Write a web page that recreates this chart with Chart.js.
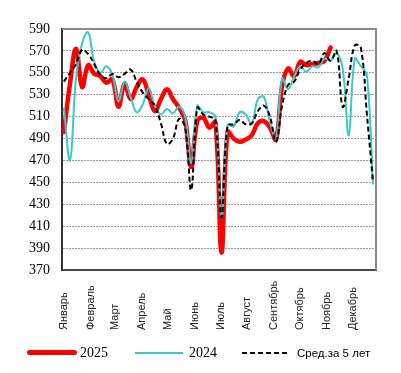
<!DOCTYPE html>
<html><head><meta charset="utf-8">
<script src="https://cdn.jsdelivr.net/npm/chart.js@4/dist/chart.umd.min.js"></script>
<style>
html,body{margin:0;padding:0;background:#fff;}
#wrap{position:relative;width:401px;height:373px;overflow:hidden;}
canvas{position:absolute;left:0;top:0;}
.ln{position:absolute;}
.tx{position:absolute;top:344px;line-height:18px;white-space:nowrap;color:#000;}
</style></head><body>
<div id="wrap">
<canvas id="c" width="401" height="373"></canvas>
<div class="ln" style="left:27px;top:350px;width:50px;height:5px;background:#ff0000;border-radius:3px;"></div>
<div class="tx" style="left:80px;font:14px 'Liberation Serif',serif;line-height:18px;">2025</div>
<div class="ln" style="left:135px;top:351.5px;width:48px;height:2px;background:#3ec6c8;"></div>
<div class="tx" style="left:189px;font:14px 'Liberation Serif',serif;line-height:18px;">2024</div>
<div class="ln" style="left:242px;top:351.5px;width:45px;height:2px;background:repeating-linear-gradient(90deg,#000 0 5px,transparent 5px 8px);"></div>
<div class="tx" style="left:297px;font:11.5px 'Liberation Sans',sans-serif;line-height:18px;">Сред.за 5 лет</div>
</div>
<script>
const weeks = [1,2,3,4,5,6,7,8,9,10,11,12,13,14,15,16,17,18,19,20,21,22,23,24,25,26,27,28,29,30,31,32,33,34,35,36,37,38,39,40,41,42,43,44,45,46,47,48,49,50,51,52];
const monthLabels = ['Январь','Февраль','Март','Апрель','Май','Июнь','Июль','Август','Сентябрь','Октябрь','Ноябрь','Декабрь'];
const monthStartDays = [0,31,59,90,120,151,181,212,243,273,304,334];
const yMin = 370, yMax = 590, yStep = 20;

const series2025 = [496,540,572,537,557,549,547,541,544,519,540,526,537,544,530,515,526,535,526,518,507,464,506,509,500,505,386,496,490,487,489,493,504,506,500,489,538,554,547,560,557,558,559,561,573];
const series2024 = [518,470,545,577,587,560,550,556,548,524,542,528,514,521,536,520,512,517,513,519,510,468,520,514,514,510,418,502,501,514,512,503,526,528,505,490,545,535,547,556,551,556,555,563,561,568,554,493,563,556,548,448];
const seriesAvg  = [542,550,558,571,567,558,548,545,549,546,549,553,542,532,526,520,504,485,490,508,500,443,518,512,510,507,418,502,503,507,503,504,515,520,510,487,520,539,542,553,559,561,558,568,561,570,519,545,575,573,512,451];

const framePlugin = {
  id: 'frame',
  beforeDatasetsDraw(chart) {
    const {ctx, chartArea: a} = chart;
    ctx.save();
    ctx.strokeStyle = '#8a8a8a';
    ctx.lineWidth = 2;
    ctx.beginPath();
    ctx.moveTo(a.left, a.top);
    ctx.lineTo(a.right, a.top);
    ctx.lineTo(a.right, a.bottom);
    ctx.stroke();
    ctx.restore();
  },
  afterDraw(chart) {
    const {ctx} = chart;
    const xs = chart.scales.x;
    ctx.save();
    ctx.fillStyle = '#222';
    ctx.font = "11px 'Liberation Sans', sans-serif";
    ctx.textAlign = 'left';
    ctx.textBaseline = 'middle';
    monthLabels.forEach((lab, i) => {
      const px = xs.getPixelForValue(1 + monthStartDays[i] / 7);
      ctx.save();
      ctx.translate(px, 330);
      ctx.rotate(-Math.PI / 2);
      ctx.fillText(lab, 0, 0);
      ctx.restore();
    });
    ctx.restore();
  }
};

new Chart(document.getElementById('c'), {
  type: 'line',
  data: {
    labels: weeks,
    datasets: [
      {label: '2025', data: series2025, borderColor: '#ff0000', borderWidth: 4.5, tension: 0.4, pointRadius: 0, fill: false, order: 3, borderCapStyle: 'round', borderJoinStyle: 'round'},
      {label: '2024', data: series2024, borderColor: '#3ec6c8', borderWidth: 2, tension: 0.4, pointRadius: 0, fill: false, order: 2},
      {label: 'Сред.за 5 лет', data: seriesAvg, borderColor: '#000000', borderWidth: 2, borderDash: [5, 3], tension: 0.4, pointRadius: 0, fill: false, order: 1}
    ]
  },
  options: {
    responsive: false,
    animation: false,
    devicePixelRatio: 1,
    layout: {padding: {left: 17, right: 25, top: 29, bottom: 103}},
    plugins: {legend: {display: false}, tooltip: {enabled: false}},
    scales: {
      x: {
        type: 'linear', min: 0.68, max: 52.5,
        grid: {display: false, drawTicks: false},
        ticks: {display: false},
        border: {display: true, color: '#4a4a4a', width: 2},
        afterFit(s) { s.height = 0; }
      },
      y: {
        min: yMin, max: yMax,
        ticks: {stepSize: yStep, color: '#000', font: {family: "'Liberation Serif', serif", size: 14}, padding: 12},
        grid: {drawTicks: false, lineWidth: 1,
          color: (c) => (c.tick && (c.tick.value === yMin || c.tick.value === yMax)) ? 'rgba(0,0,0,0)' : '#999'},
        border: {display: true, color: '#333', width: 2, dash: [2, 1]}
      }
    }
  },
  plugins: [framePlugin]
});
</script>
</body></html>
